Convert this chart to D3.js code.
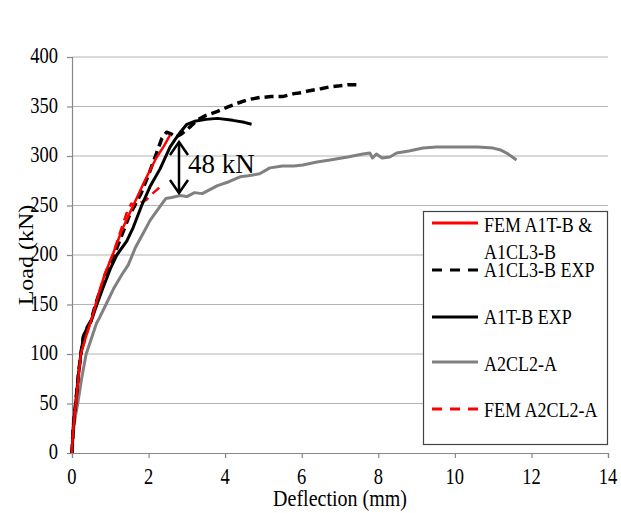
<!DOCTYPE html>
<html>
<head>
<meta charset="utf-8">
<script src="https://cdn.jsdelivr.net/npm/d3@7"></script>
<style>
  body { margin: 0; background: #fff; }
  svg text { font-family: "Liberation Serif", "Times New Roman", Tinos, "DejaVu Serif", serif; fill: #000; }
</style>
</head>
<body>
<div id="chart"></div>
<script>
// series: [deflection mm, load kN]
const femA1 = [[0,0],[0.02,20],[0.1,50],[0.23,100],[0.4,122],[0.55,140],[0.69,160],[0.85,180],[1.08,202],[1.3,225],[1.6,250],[1.9,275],[2.2,298],[2.4,310],[2.56,321]];
const a1cl3Exp = [[0,0],[0.03,25],[0.1,52],[0.17,80],[0.23,100],[0.3,118],[0.4,127],[0.5,134],[0.6,148],[0.7,160],[0.85,175],[1.0,190],[1.2,210],[1.5,240],[1.8,262],[2.0,281],[2.2,302],[2.35,318],[2.47,324],[2.6,322],[2.7,319],[2.85,322],[2.95,325],[3.1,330],[3.26,336],[3.5,341],[3.8,345],[4.04,349],[4.3,353],[4.6,357],[4.9,359],[5.2,360],[5.5,360],[5.8,363],[6.0,364],[6.2,366],[6.5,368],[6.75,370],[7.0,371],[7.2,372],[7.43,372]];
const a1tExp = [[0,0],[0.03,25],[0.1,52],[0.17,80],[0.23,100],[0.3,118],[0.4,127],[0.5,133],[0.65,150],[0.8,166],[1.0,186],[1.17,200],[1.43,214],[1.6,228],[1.82,250],[2.05,270],[2.3,287],[2.56,309],[2.7,317],[2.85,325],[3.0,332],[3.2,335],[3.5,337],[3.8,338],[4.2,336],[4.5,334],[4.69,332]];
const a2cl2 = [[0,0],[0.03,20],[0.08,35],[0.15,50],[0.25,75],[0.37,100],[0.5,115],[0.64,131],[0.71,136],[0.9,151],[1.1,167],[1.3,180],[1.47,190],[1.65,207],[1.86,222],[2.04,235],[2.3,249],[2.45,257],[2.6,258],[2.82,260],[3.0,259],[3.2,263],[3.4,262],[3.6,266],[3.8,270],[4.1,274],[4.39,279],[4.6,280],[4.9,282],[5.17,288],[5.5,290],[5.8,290],[6.03,291],[6.4,294],[6.74,296],[7.2,299],[7.6,302],[7.78,303],[7.85,298],[7.95,302],[8.1,298],[8.3,299],[8.48,303],[8.8,305],[9.17,308],[9.52,309],[10.2,309],[10.6,309],[11.0,308],[11.2,306],[11.35,303],[11.5,299],[11.61,296]];
const femA2 = [[0,0],[0.02,20],[0.1,50],[0.23,100],[0.4,122],[0.55,140],[0.69,160],[0.85,180],[1.08,202],[1.3,228],[1.45,245],[1.55,252],[1.65,249],[1.75,252],[1.95,256],[2.1,262],[2.25,267],[2.34,271]];

const xTicks = [0,2,4,6,8,10,12,14];
const yTicks = [0,50,100,150,200,250,300,350,400];

const series = [
  {name: ["FEM A1T-B &", "A1CL3-B"], data: femA1, color: "#ff0000", width: 2.5, dash: null},
  {name: ["A1CL3-B EXP"], data: a1cl3Exp, color: "#000", width: 3.5, dash: "9,5"},
  {name: ["A1T-B EXP"], data: a1tExp, color: "#000", width: 3, dash: null},
  {name: ["A2CL2-A"], data: a2cl2, color: "#808080", width: 3, dash: null},
  {name: ["FEM A2CL2-A"], data: femA2, color: "#ff0000", width: 2.5, dash: "9,6"}
];

const width = 621, height = 513;
const font = '"Liberation Serif", "Times New Roman", serif';
const svg = d3.select("#chart").append("svg")
  .attr("width", width)
  .attr("height", height);

const x = d3.scaleLinear().domain([0, 14]).range([72, 608]);
const y = d3.scaleLinear().domain([0, 400]).range([453, 57]);

// stretched text like the original export
const label = (g, tx, ty, str, size, anchor, sy = 1.2) =>
  g.append("text")
    .attr("transform", `translate(${tx},${ty}) scale(1,${sy})`)
    .attr("text-anchor", anchor)
    .attr("font-family", font)
    .style("font-family", font)
    .style("font-size", size + "px")
    .text(str);

// gridlines
svg.append("g").selectAll("line")
  .data(yTicks.slice(1))
  .enter().append("line")
  .attr("x1", x(0)).attr("x2", x(14))
  .attr("y1", d => y(d)).attr("y2", d => y(d))
  .attr("stroke", "#b4b4b4").attr("stroke-width", 1);

// axes
const xAxis = svg.append("g")
  .attr("transform", `translate(0,${y(0)})`)
  .call(d3.axisBottom(x).tickValues(xTicks).tickSize(5).tickFormat(""));
const yAxis = svg.append("g")
  .attr("transform", `translate(${x(0)},0)`)
  .call(d3.axisLeft(y).tickValues(yTicks).tickSize(5).tickFormat(""));
[xAxis, yAxis].forEach(a => {
  a.selectAll("path,line").attr("stroke", "#888").attr("stroke-width", 1.2);
});

xTicks.forEach(t => label(svg, x(t), 484, t, 18.5, "middle"));
yTicks.forEach(t => label(svg, 58, y(t) + 6, t, 18.5, "end"));

label(svg, (x(0) + x(14)) / 2, 506, "Deflection (mm)", 20, "middle");
svg.append("text")
  .attr("transform", `translate(33,${(y(0) + y(400)) / 2}) rotate(-90) scale(1.2,1)`)
  .attr("text-anchor", "middle")
  .style("font-family", font)
  .style("font-size", "20px")
  .text("Load (kN)");

// curves
const line = d3.line().x(d => x(d[0])).y(d => y(d[1]));
svg.append("g").selectAll("path")
  .data(series.slice().reverse())
  .enter().append("path")
  .attr("d", d => line(d.data))
  .attr("fill", "none")
  .attr("stroke", d => d.color)
  .attr("stroke-width", d => d.width)
  .attr("stroke-dasharray", d => d.dash)
  .attr("stroke-linejoin", "round");

// 48 kN annotation
const ax = 179, arrTop = 142, arrBot = 193;
const arrow = svg.append("g").attr("stroke", "#000").attr("stroke-width", 2.5).attr("fill", "none");
arrow.append("line").attr("x1", ax).attr("x2", ax).attr("y1", arrTop).attr("y2", arrBot);
arrow.append("path").attr("d", `M${ax - 9},${arrTop + 13}L${ax},${arrTop}L${ax + 9},${arrTop + 13}`);
arrow.append("path").attr("d", `M${ax - 9},${arrBot - 13}L${ax},${arrBot}L${ax + 9},${arrBot - 13}`);
label(svg, 188, 173, "48 kN", 27, "start", 1.05);

// legend
const lg = svg.append("g");
lg.append("rect")
  .attr("x", 423.5).attr("y", 211.5).attr("width", 184).attr("height", 233)
  .attr("fill", "#fff").attr("stroke", "#444").attr("stroke-width", 1.2);
const rowY = [223, 270, 317, 362, 409];
const textY = [[231.5, 258.5], [276.5], [324], [370.5], [416.5]];
series.forEach((s, i) => {
  lg.append("line")
    .attr("x1", 432).attr("x2", 478)
    .attr("y1", rowY[i]).attr("y2", rowY[i])
    .attr("stroke", s.color).attr("stroke-width", 3)
    .attr("stroke-dasharray", s.dash ? "10,8" : null);
  s.name.forEach((n, j) => label(lg, 484, textY[i][j], n, 18, "start"));
});
</script>
</body>
</html>
